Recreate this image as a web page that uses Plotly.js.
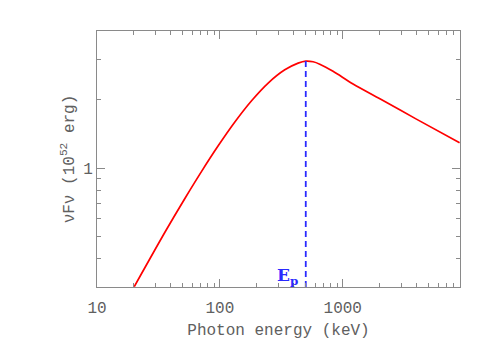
<!DOCTYPE html>
<html>
<head>
<meta charset="utf-8">
<script src="https://cdn.plot.ly/plotly-3.0.1.min.js"></script>
<style>html,body{margin:0;padding:0;background:#fff;}#chart{width:490px;height:350px;}</style>
</head>
<body>
<div id="chart"></div>
<script>
// Spectrum (nuFnu)
const energy = [20.1, 35.7, 51.9, 71.0, 96.9, 132.4, 181.1, 247.2, 337.6, 433.2, 500, 574, 650, 834, 1213, 2128, 3975, 8930];
const nuFnu  = [0.301, 0.522, 0.735, 0.967, 1.252, 1.593, 1.975, 2.362, 2.70, 2.89, 2.95, 2.93, 2.86, 2.66, 2.34, 1.98, 1.64, 1.29];

// Peak energy marker
const epEnergy = [500, 500];
const epLevel  = [0.30, 2.95];

// Axis ticks
const xMajor = [10, 100, 1000];
const xMajorText = ['10', '100', '1000'];
const xMinor = [20,30,40,50,60,70,80,90,200,300,400,500,600,700,800,900,2000,3000,4000,5000,6000,7000,8000,9000];
const yMajor = [1];
const yMajorText = ['1'];
const yMinor = [0.3,0.4,0.5,0.6,0.7,0.8,0.9,2,3,4];

const txtFont = {family: 'Liberation Mono, monospace', size: 16, color: '#606060'};
const axCol = '#8a8a8a';

const traces = [
  {x: energy, y: nuFnu, type: 'scatter', mode: 'lines',
   line: {color: '#ff0000', width: 1.7, shape: 'spline', smoothing: 0.8}, hoverinfo: 'skip'},
  {x: epEnergy, y: epLevel, type: 'scatter', mode: 'lines',
   line: {color: '#2a2aff', width: 1.8, dash: '6px,4px'}, hoverinfo: 'skip'}
];

const layout = {
  width: 490, height: 350,
  margin: {l: 97, r: 30, t: 31, b: 63},
  paper_bgcolor: '#fff', plot_bgcolor: '#fff',
  showlegend: false,
  font: txtFont,
  xaxis: {
    type: 'log', range: [1, Math.log10(9000)],
    tickmode: 'array', tickvals: xMajor, ticktext: xMajorText,
    ticks: 'inside', ticklen: 8, tickcolor: axCol, tickwidth: 1,
    minor: {tickmode: 'array', tickvals: xMinor, ticks: 'inside', ticklen: 4, tickcolor: axCol, tickwidth: 1, showgrid: false},
    showline: true, linecolor: axCol, linewidth: 1, mirror: 'ticks',
    showgrid: false, zeroline: false,
    tickfont: txtFont, ticklabelstandoff: 6,
    title: {text: 'Photon energy (keV)', font: txtFont, standoff: 6}
  },
  yaxis: {
    type: 'log', range: [Math.log10(0.3), Math.log10(4)],
    tickmode: 'array', tickvals: yMajor, ticktext: yMajorText,
    ticks: 'inside', ticklen: 8, tickcolor: axCol, tickwidth: 1,
    minor: {tickmode: 'array', tickvals: yMinor, ticks: 'inside', ticklen: 4, tickcolor: axCol, tickwidth: 1, showgrid: false},
    showline: true, linecolor: axCol, linewidth: 1, mirror: 'ticks',
    showgrid: false, zeroline: false,
    tickfont: txtFont,
    title: {text: 'νFν (10<sup>52</sup> erg)', font: txtFont, standoff: 4}
  },
  annotations: [{
    x: Math.log10(500), y: Math.log10(0.3), xref: 'x', yref: 'y',
    text: '<b>E<sub>p</sub></b>', showarrow: false,
    xanchor: 'right', yanchor: 'bottom', xshift: -6, yshift: -3,
    font: {family: 'DejaVu Serif, serif', size: 17, color: '#2a2aff'}
  }]
};

Plotly.newPlot('chart', traces, layout, {staticPlot: true, displayModeBar: false});
</script>
</body>
</html>
